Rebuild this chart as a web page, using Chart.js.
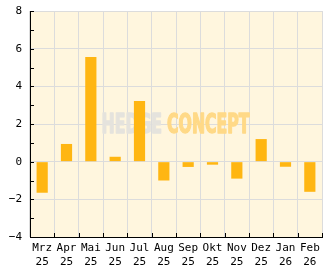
<!DOCTYPE html>
<html>
<head>
<meta charset="utf-8">
<script src="https://cdn.jsdelivr.net/npm/chart.js@4"></script>
<style>
  html, body { margin: 0; padding: 0; background: #fff; }
  #wrap { width: 332px; height: 269px; }
</style>
</head>
<body>
<div id="wrap"><canvas id="chart" width="332" height="269"></canvas></div>
<script>
/* ── data ── */
const months = ['Mrz', 'Apr', 'Mai', 'Jun', 'Jul', 'Aug', 'Sep', 'Okt', 'Nov', 'Dez', 'Jan', 'Feb'];
const years  = ['25', '25', '25', '25', '25', '25', '25', '25', '25', '25', '26', '26'];
const values = [-1.65, 0.94, 5.56, 0.26, 3.22, -1.0, -0.28, -0.16, -0.9, 1.2, -0.27, -1.6];
const yMin = -4, yMax = 8;

const labels = months.map((m, i) => [m, years[i]]);

const MONO   = "'DejaVu Sans Mono', monospace";
const BG     = '#fff6de';
const GRID   = '#dcdcdc';
const BAR    = '#ffb612';

/* plot background + watermark under the bars */
const backdrop = {
  id: 'backdrop',
  beforeDraw(chart) {
    const { ctx, chartArea: a } = chart;
    ctx.save();
    ctx.fillStyle = BG;
    ctx.fillRect(a.left, a.top, a.right - a.left, a.bottom - a.top);
    ctx.restore();
  },
  beforeDatasetsDraw(chart) {
    const { ctx } = chart;
    ctx.save();
    ctx.font = "bold 26px 'Liberation Sans Narrow', 'DejaVu Sans Condensed', sans-serif";
    ctx.textBaseline = 'alphabetic';
    ctx.lineJoin = 'round';
    ctx.lineWidth = 1.4;
    const w1 = ctx.measureText('HEDGE').width;
    const w2 = ctx.measureText('CONCEPT').width;
    const gap = 5 * (w1 + w2) / 144;
    const sx = 148 / (w1 + w2 + gap);
    ctx.translate(101.5, 132.5);
    ctx.scale(sx, 1);
    ctx.fillStyle = ctx.strokeStyle = '#e5e3dd';
    ctx.fillText('HEDGE', 0, 0);
    ctx.strokeText('HEDGE', 0, 0);
    ctx.fillStyle = ctx.strokeStyle = '#ffd987';
    ctx.fillText('CONCEPT', w1 + gap, 0);
    ctx.strokeText('CONCEPT', w1 + gap, 0);
    ctx.restore();
  }
};

/* inward tick marks on both axes */
const innerTicks = {
  id: 'innerTicks',
  afterDraw(chart) {
    const { ctx, chartArea: a, scales: { x, y } } = chart;
    ctx.save();
    ctx.strokeStyle = '#000';
    ctx.lineWidth = 1;
    ctx.beginPath();
    for (let v = yMin; v <= yMax; v++) {
      const py = Math.round(y.getPixelForValue(v)) + 0.5;
      ctx.moveTo(a.left, py);
      ctx.lineTo(a.left + 4, py);
    }
    for (let i = 0; i <= labels.length; i++) {
      const px = Math.round(x.getPixelForValue(i - 0.5)) + 0.5;
      ctx.moveTo(px, a.bottom);
      ctx.lineTo(px, a.bottom - 4);
    }
    ctx.stroke();
    ctx.restore();
  }
};

new Chart(document.getElementById('chart'), {
  type: 'bar',
  data: {
    labels,
    datasets: [{
      data: values,
      backgroundColor: BAR,
      borderWidth: 0,
      categoryPercentage: 1,
      barPercentage: 0.46,
    }]
  },
  options: {
    responsive: false,
    animation: false,
    devicePixelRatio: 1,
    layout: { padding: { top: 11, right: 10, left: 0, bottom: 0 } },
    plugins: { legend: { display: false }, tooltip: { enabled: false } },
    scales: {
      x: {
        offset: true,
        grid: { offset: true, color: GRID, drawTicks: false },
        border: { color: '#000', width: 1 },
        ticks: {
          color: '#000', padding: 4, maxRotation: 0, autoSkip: false,
          font: { family: MONO, size: 11, lineHeight: 1.27 }
        },
        afterFit(s) { s.height = 32; s.paddingLeft = 0; s.paddingRight = 0; }
      },
      y: {
        min: yMin, max: yMax,
        grid: {
          drawTicks: false,
          color: c => (c.tick && c.tick.value % 2 === 0) ? GRID : 'rgba(0,0,0,0)'
        },
        border: { color: '#000', width: 1 },
        ticks: {
          stepSize: 1, color: '#000', padding: 8, autoSkip: false,
          font: { family: MONO, size: 11 },
          callback: v => v % 2 === 0 ? String(v).replace('-', '\u2212') : ''
        },
        afterFit(s) { s.width = 30; s.paddingTop = 0; s.paddingBottom = 0; }
      }
    }
  },
  plugins: [backdrop, innerTicks]
});
</script>
</body>
</html>
